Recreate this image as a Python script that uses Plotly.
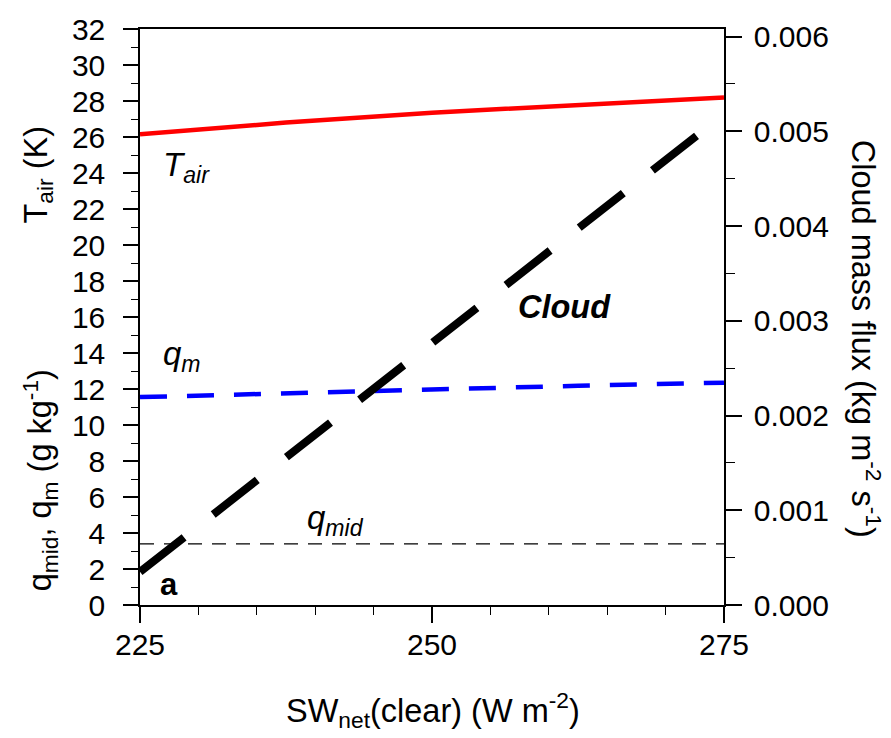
import plotly.graph_objects as go

# Clear-sky net shortwave (W m-2)
sw_net = [225, 237.5, 250, 262.5, 275]
# Air temperature (K axis, left)
t_air = [26.15, 26.8, 27.35, 27.8, 28.2]
# Mixed-layer humidity q_m (g kg-1, left)
q_m = [11.55, 11.78, 12.0, 12.18, 12.35]
# Mid-level humidity q_mid (g kg-1, left)
q_mid = [3.4, 3.4, 3.4, 3.4, 3.4]
# Cloud mass flux (kg m-2 s-1, right)
cloud_flux = [0.00035, 0.00156, 0.00276, 0.00397, 0.00518]

FONT = "Arial, Liberation Sans, sans-serif"

# plot area in pixels
L, R, T, B = 140, 724, 23, 605
W, H = 891, 738


def px(x):
    return (x - L) / (R - L)


def py(y):
    return (B - y) / (B - T)


fig = go.Figure()

fig.add_trace(go.Scatter(x=sw_net, y=t_air, mode="lines",
                         line=dict(color="#ff0000", width=4.5),
                         showlegend=False))
fig.add_trace(go.Scatter(x=sw_net, y=q_m, mode="lines",
                         line=dict(color="#0000ff", width=4.5, dash="27px,20px"),
                         showlegend=False))
fig.add_trace(go.Scatter(x=sw_net, y=q_mid, mode="lines",
                         line=dict(color="black", width=1.3, dash="14px,10px"),
                         showlegend=False))
fig.add_trace(go.Scatter(x=sw_net, y=cloud_flux, mode="lines", yaxis="y2",
                         line=dict(color="black", width=8, dash="56px,37px"),
                         showlegend=False))

tickfont = dict(family=FONT, size=30, color="black")

fig.update_layout(
    width=W, height=H,
    margin=dict(l=L, r=W - R, t=T, b=H - B, pad=0),
    paper_bgcolor="white", plot_bgcolor="white",
    xaxis=dict(range=[225, 275], dtick=25, tick0=225, showgrid=False,
               zeroline=False, showline=True, linecolor="black", linewidth=1.5,
               mirror=True, ticks="outside", ticklen=16, tickwidth=1.5,
               tickcolor="black", tickfont=tickfont, ticklabelstandoff=-4,
               minor=dict(dtick=5, ticklen=8, tickwidth=1.2, ticks="outside",
                          tickcolor="black", showgrid=False)),
    yaxis=dict(range=[0, 32], dtick=2, tick0=0, showgrid=False,
               zeroline=False, showline=True, linecolor="black", linewidth=1.5,
               ticks="outside", ticklen=15, tickwidth=1.5, tickcolor="black",
               tickfont=tickfont, ticklabelstandoff=12,
               minor=dict(dtick=1, ticklen=7, tickwidth=1.2, ticks="outside",
                          tickcolor="black", showgrid=False)),
    yaxis2=dict(range=[0, 0.00608], dtick=0.001, tick0=0, tickformat=".3f",
                overlaying="y", side="right", anchor="x", showgrid=False,
                zeroline=False, showline=True, linecolor="black", linewidth=1.5,
                ticks="outside", ticklen=16, tickwidth=1.5, tickcolor="black",
                tickfont=tickfont, ticklabelstandoff=6,
                minor=dict(dtick=0.0005, ticklen=9, tickwidth=1.2,
                           ticks="outside", tickcolor="black", showgrid=False)),
)


def note(text, x, y, xanchor="center", yanchor="middle", angle=0, size=32.5):
    fig.add_annotation(text=text, x=px(x), y=py(y), xref="paper", yref="paper",
                       xanchor=xanchor, yanchor=yanchor, textangle=angle,
                       showarrow=False,
                       font=dict(family=FONT, size=size, color="black"))


# axis titles
note("SW<sub>net</sub>(clear) (W m<sup>-2</sup>)", 433, 711)
note("T<sub>air</sub> (K)", 38, 170, angle=-90)
note("q<sub>mid</sub>, q<sub>m</sub> (g kg<sup>-1</sup>)", 40, 479, angle=-90)
note("Cloud mass flux (kg m<sup>-2</sup> s<sup>-1</sup>)", 866, 336, angle=90)

# curve labels
note("<i>T<sub>air</sub></i>", 161, 162, xanchor="left", size=33)
note("<i>q<sub>m</sub></i>", 161, 353, xanchor="left", size=33)
note("<i>q<sub>mid</sub></i>", 305, 519, xanchor="left", size=33)
note("<b><i>Cloud</i></b>", 516, 304, xanchor="left", size=32.5)
note("<b>a</b>", 158, 584, xanchor="left", size=31)

fig.write_html("out.html")
